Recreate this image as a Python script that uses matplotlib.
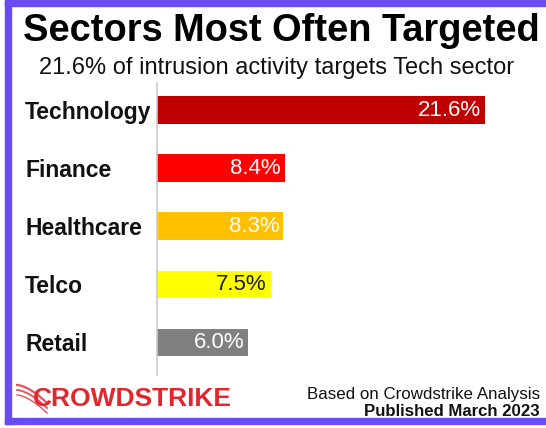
"""Sectors most often targeted - horizontal bar chart."""

import matplotlib.pyplot as plt
import matplotlib.patches as mpatches
import numpy as np

plt.rcParams["font.family"] = ["Liberation Sans", "DejaVu Sans"]

sectors = ["Technology", "Finance", "Healthcare", "Telco", "Retail"]
shares = [21.6, 8.4, 8.3, 7.5, 6.0]
bar_colors = ["#C00000", "#FF0000", "#FFC000", "#FFFF00", "#808080"]
label_colors = ["white", "white", "white", "#1a1a1a", "white"]

W, H = 546, 428
fig = plt.figure(figsize=(W / 100, H / 100), dpi=100)
fig.patch.set_facecolor("white")

# axes placed in pixel terms (left spine at x=157, from y=83 to y=375)
ax = fig.add_axes([157 / W, (H - 375) / H, (530 - 157) / W, (375 - 83) / H])
y = np.arange(len(sectors))
ax.barh(y, shares, color=bar_colors, height=0.48)
ax.set_xlim(0, 373 / 15.19)
ax.set_ylim(4.56, -0.47)

for yi, v, c in zip(y, shares, label_colors):
    ax.text(v - 0.26, yi, f"{v:.1f}%", ha="right", va="center",
            fontsize=16, color=c)

# category labels left-aligned at x=25 px (pad is in points: 132 px = 95 pt)
ax.set_yticks(y)
ax.set_yticklabels(sectors, fontsize=16.5, fontweight="bold", color="#111111")
for lab in ax.get_yticklabels():
    lab.set_horizontalalignment("left")
ax.tick_params(axis="y", length=0, pad=132 * 0.72)
ax.set_xticks([])
for s in ["top", "right", "bottom"]:
    ax.spines[s].set_visible(False)
ax.spines["left"].set_color("#cccccc")
ax.spines["left"].set_linewidth(1.2)

# titles
fig.text(281 / W, 1 - 31 / H, "Sectors Most Often Targeted", ha="center",
         va="center", fontsize=27.4, fontweight="bold", color="black")
fig.text(277 / W, 1 - 68 / H, "21.6% of intrusion activity targets Tech sector",
         ha="center", va="center", fontsize=17.0, color="#111111")

# footer
fig.text(540 / W, 1 - 395 / H, "Based on Crowdstrike Analysis", ha="right",
         va="center", fontsize=12.2, color="#111111")
fig.text(540 / W, 1 - 412 / H, "Published March 2023", ha="right",
         va="center", fontsize=12.1, fontweight="bold", color="#111111")

# logo wordmark with a small swoosh
fig.text(33 / W, 1 - 399 / H, "CROWDSTRIKE", ha="left", va="center",
         fontsize=19, fontweight="heavy", color="#E3262D")
t = np.linspace(0, 1, 30)
for dy, lw in [(0, 1.6), (5, 1.3), (10, 1.0)]:
    xs = 17 + 30 * t
    ys = 385 + dy + 18 * t ** 1.6
    fig.add_artist(plt.Line2D(xs / W, 1 - ys / H, color="#E3262D", lw=lw,
                              alpha=0.8))

# purple frame (left, top, bottom edges; right edge is cropped off)
frame_color = "#6A4CF5"
edges = [(5, 0, 6, 424), (5, 0, 541, 6), (5, 418, 541, 6)]
for x0, y0, w, h in edges:
    fig.add_artist(mpatches.Rectangle((x0 / W, 1 - (y0 + h) / H), w / W, h / H,
                                      transform=fig.transFigure,
                                      color=frame_color, zorder=5))

fig.savefig("out.png", dpi=100, facecolor="white")
